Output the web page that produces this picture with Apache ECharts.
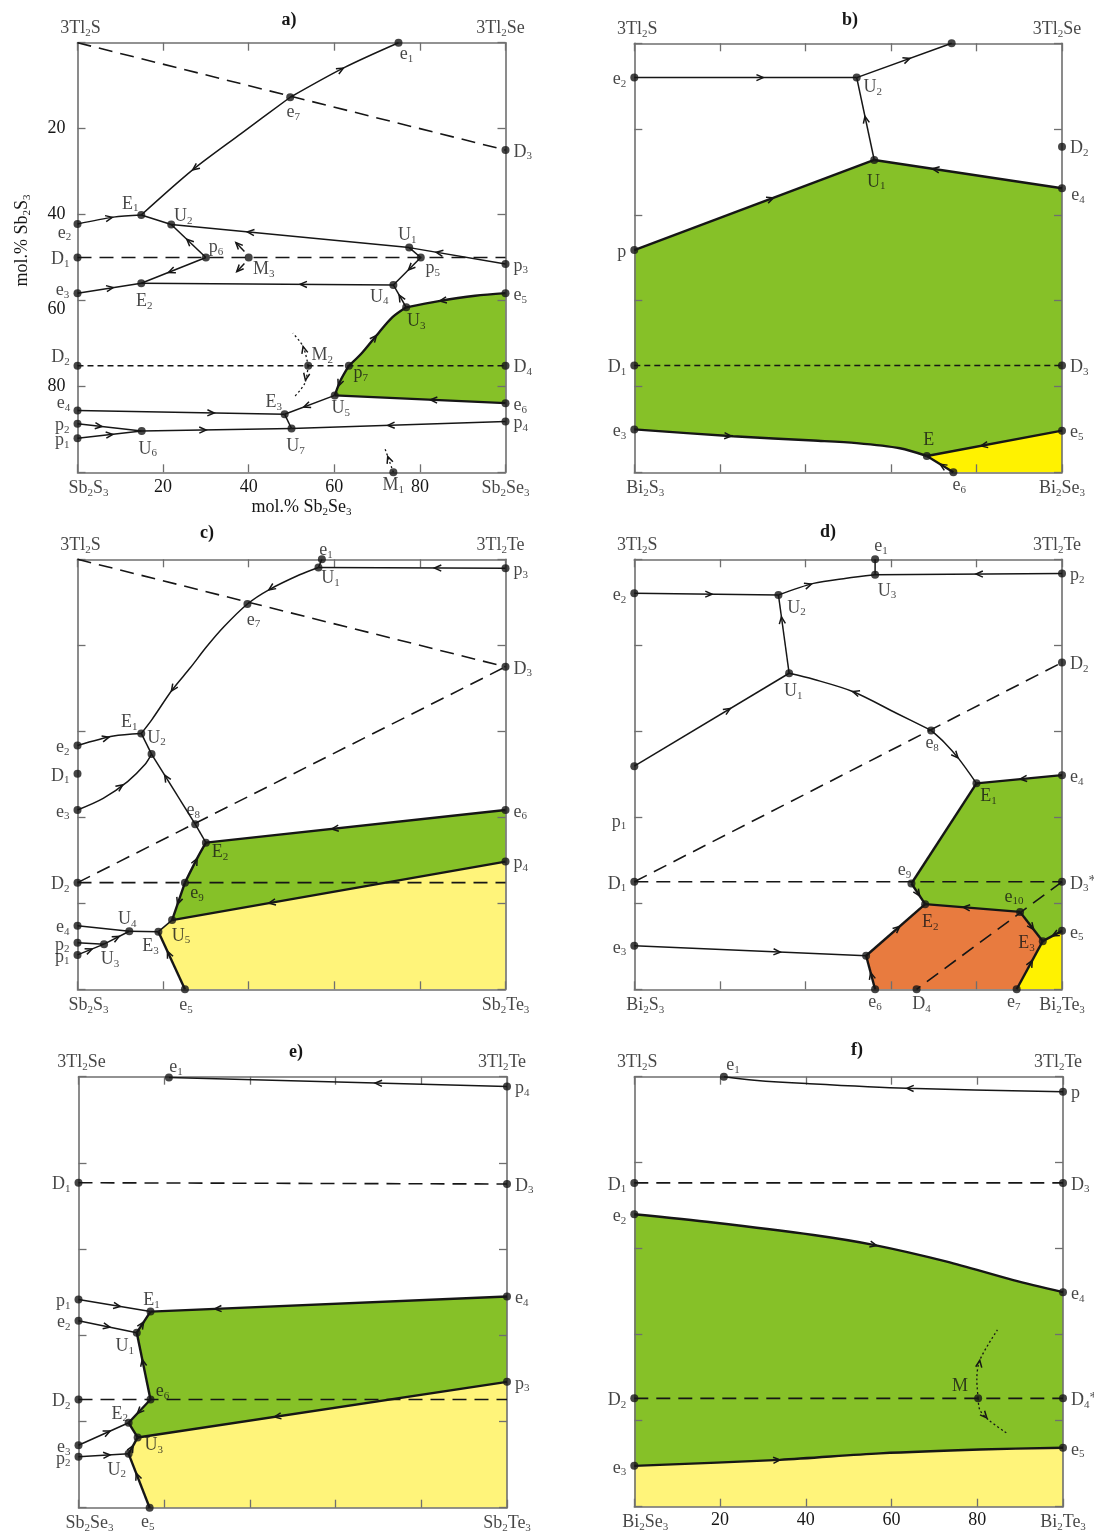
<!DOCTYPE html>
<html>
<head>
<meta charset="utf-8">
<title>Liquidus surface projections</title>
<script src="https://cdn.jsdelivr.net/npm/echarts@6/dist/echarts.min.js"></script>
<style>
  html, body { margin: 0; padding: 0; background: #fff; }
  #chart { width: 1094px; height: 1535px; }
</style>
</head>
<body>
<div id="chart"></div>
<script>
// Compositions are in mol.%: x runs from the left edge (0) to the right edge (100),
// y runs from the top edge (0) down to the bottom edge (100).
// Node rows are [name, x, y]; names starting with '#' are unlabelled nodes.

// ---------- a) 3Tl2S – 3Tl2Se – Sb2Se3 – Sb2S3
const aCorners = ['3Tl_2S', '3Tl_2Se', 'Sb_2S_3', 'Sb_2Se_3'];
const aNodes = [
  ['e_1', 75, 0], ['e_7', 49.7, 12.7], ['D_3', 100, 25], ['E_1', 14.9, 40.1], ['e_2', 0, 42.2],
  ['U_2', 21.9, 42.3], ['U_1', 77.5, 47.7], ['D_1', 0, 50], ['p_6', 30, 50], ['M_3', 40, 50],
  ['p_5', 80.2, 50], ['p_3', 100, 51.5], ['e_3', 0, 58.3], ['E_2', 14.9, 56.0], ['U_4', 73.8, 56.4],
  ['U_3', 76.8, 61.6], ['e_5', 100, 58.3], ['D_2', 0, 75.2], ['M_2', 53.9, 75.2], ['p_7', 63.4, 75.2],
  ['D_4', 100, 75.2], ['U_5', 60.1, 82.1], ['e_6', 100, 83.9], ['E_3', 48.4, 86.5], ['e_4', 0, 85.6],
  ['p_2', 0, 88.7], ['p_4', 100, 88.2], ['U_6', 15, 90.4], ['U_7', 50, 89.8], ['p_1', 0, 92.1],
  ['M_1', 73.8, 100]
];
// curves: p = node names or [x, y] waypoints in flow order, a = arrow positions along the curve (0..1)
const aThin = [
  {p: ['e_7', [62.3, 5.8], 'e_1'], a: [0.5]},
  {p: ['e_7', [38.3, 21.1], [26.9, 29.6], 'E_1'], a: [0.64]},
  {p: ['e_2', [8.4, 40.6], 'E_1'], a: [0.55]},
  {p: ['E_1', 'U_2']},
  {p: ['U_1', 'U_2'], a: [0.68]},
  {p: ['p_3', 'U_1'], a: [0.72]},
  {p: ['U_1', 'p_5']},
  {p: ['p_5', 'U_4'], a: [0.45]},
  {p: ['U_4', 'E_2'], a: [0.37]},
  {p: ['U_3', 'U_4'], a: [0.55]},
  {p: ['p_6', 'E_2'], a: [0.58]},
  {p: ['e_3', 'E_2'], a: [0.56]},
  {p: ['p_6', 'U_2'], a: [0.55]},
  {p: ['U_5', 'E_3'], a: [0.62]},
  {p: ['e_4', 'E_3'], a: [0.66]},
  {p: ['E_3', 'U_7']},
  {p: ['p_2', 'U_6'], a: [0.38]},
  {p: ['p_1', 'U_6'], a: [0.55]},
  {p: ['U_6', 'U_7'], a: [0.43]},
  {p: ['p_4', 'U_7'], a: [0.55]},
  {p: [[39, 48.6], [37, 46.5]], a: [1]},
  {p: [[39, 51.4], [37.2, 53.3]], a: [1]}
];
const aThick = [
  {p: ['e_5', [92.9, 58.9], [84.1, 60.2], 'U_3'], a: [0.66]},
  {p: ['p_7', [66.4, 72.3], [70.4, 67.5], [73.6, 63.9], 'U_3'], a: [0.5]},
  {p: ['p_7', [61.5, 78.5], 'U_5'], a: [0.7]},
  {p: ['e_6', 'U_5'], a: [0.44]}
];
const aDotted = [
  {p: ['M_2', [52.7, 70.7], [50.3, 67.6]], a: [0.54]},
  {p: ['M_2', [53.1, 79.3], [50.7, 82.4]], a: [0.42]},
  {p: ['M_1', [71.8, 94.4]], a: [0.66]}
];
const aDashed = [[[0, 0], 'D_3'], ['D_1', [100, 50]]];
const aDashedShort = [['D_2', 'D_4']];
const aGreen = ['e_5', [92.9, 58.9], [84.1, 60.2], 'U_3', [73.6, 63.9], [70.4, 67.5], [66.4, 72.3],
  'p_7', [61.5, 78.5], 'U_5', 'e_6'];

// ---------- b) 3Tl2S – 3Tl2Se – Bi2Se3 – Bi2S3
const bCorners = ['3Tl_2S', '3Tl_2Se', 'Bi_2S_3', 'Bi_2Se_3'];
const bNodes = [
  ['#top', 74.2, 0], ['e_2', 0, 8], ['U_2', 52, 8], ['U_1', 56.1, 27.2], ['D_2', 100, 24.1],
  ['e_4', 100, 33.8], ['p', 0, 48.2], ['D_1', 0, 75.1], ['D_3', 100, 75.1], ['e_3', 0, 90],
  ['e_5', 100, 90.3], ['E', 68.4, 96.2], ['e_6', 74.6, 100]
];
const bThin = [
  {p: ['e_2', 'U_2'], a: [0.58]},
  {p: ['U_2', '#top'], a: [0.56]},
  {p: ['U_1', 'U_2'], a: [0.53]}
];
const bThick = [
  {p: ['p', 'U_1'], a: [0.58]},
  {p: ['e_4', 'U_1'], a: [0.69]},
  {p: ['e_3', [23.1, 91.6], [41.9, 92.6], [52, 93.2], [62.1, 94.4], 'E'], a: [0.33]},
  {p: ['e_5', 'E'], a: [0.6]},
  {p: ['e_6', 'E'], a: [0.5]}
];
const bDashedShort = [['D_1', 'D_3']];
const bGreen = ['p', 'U_1', 'e_4', 'e_5', 'E', [62.1, 94.4], [52, 93.2], [41.9, 92.6], [23.1, 91.6], 'e_3'];
const bYellow = ['E', 'e_5', [100, 100], 'e_6'];

// ---------- c) 3Tl2S – 3Tl2Te – Sb2Te3 – Sb2S3
const cCorners = ['3Tl_2S', '3Tl_2Te', 'Sb_2S_3', 'Sb_2Te_3'];
const cNodes = [
  ['e_1', 57.1, 0], ['U_1', 56.3, 1.9], ['p_3', 100, 2.1], ['e_7', 39.7, 10.4], ['D_3', 100, 25],
  ['E_1', 14.9, 40.5], ['e_2', 0, 43.3], ['U_2', 17.3, 45.3], ['D_1', 0, 49.9], ['e_3', 0, 58.3],
  ['e_8', 27.5, 61.6], ['E_2', 30, 65.9], ['e_6', 100, 58.3], ['p_4', 100, 70.3], ['D_2', 0, 75.2],
  ['e_9', 25.1, 75.2], ['U_5', 22.1, 83.9], ['E_3', 18.9, 86.6], ['U_4', 12.1, 86.5], ['e_4', 0, 85.2],
  ['p_2', 0, 89.2], ['U_3', 6.2, 89.5], ['p_1', 0, 92], ['e_5', 25.1, 100]
];
const cThin = [
  {p: ['p_3', 'U_1'], a: [0.38]},
  {p: ['e_1', 'U_1']},
  {p: ['U_1', [51.9, 3.6], [44.7, 7.1], 'e_7', [34.2, 15.7], [30.2, 20.3], [26.3, 25.3], [22.1, 30.4],
    [17.3, 37.4], 'E_1'], a: [0.22, 0.79]},
  {p: ['e_2', [8.4, 41.1], 'E_1'], a: [0.5]},
  {p: ['E_1', 'U_2']},
  {p: ['e_3', [6, 55.6], [11.7, 51.7], [15.7, 47.8], 'U_2'], a: [0.55]},
  {p: ['e_8', 'U_2'], a: [0.7]},
  {p: ['E_2', 'e_8']},
  {p: ['e_4', 'U_4']},
  {p: ['U_4', 'E_3']},
  {p: ['p_2', 'U_3']},
  {p: ['p_1', 'U_3'], a: [0.55]},
  {p: ['U_3', 'U_4'], a: [0.6]},
  {p: ['U_5', 'E_3']}
];
const cThick = [
  {p: ['e_6', 'E_2'], a: [0.58]},
  {p: ['e_9', [28.2, 69.1], 'E_2'], a: [0.6]},
  {p: ['e_9', 'U_5'], a: [0.58]},
  {p: ['p_4', 'U_5'], a: [0.71]},
  {p: ['e_5', 'E_3'], a: [0.66]}
];
const cDashed = [[[0, 0], 'D_3'], ['D_2', 'D_3'], ['D_2', [100, 75.2]]];
const cGreen = ['E_2', 'e_6', 'p_4', 'U_5', 'e_9', [28.2, 69.1]];
const cYellow = ['U_5', 'p_4', [100, 100], 'e_5', 'E_3'];

// ---------- d) 3Tl2S – 3Tl2Te – Bi2Te3 – Bi2S3
const dCorners = ['3Tl_2S', '3Tl_2Te', 'Bi_2S_3', 'Bi_2Te_3'];
const dNodes = [
  ['e_1', 56.3, 0], ['U_3', 56.3, 3.6], ['p_2', 100, 3.3], ['e_2', 0, 7.9], ['U_2', 33.7, 8.3],
  ['U_1', 36.2, 26.5], ['D_2', 100, 24], ['e_8', 69.4, 39.8], ['#p1', 0, 48.1], ['e_4', 100, 50.2],
  ['E_1', 80, 52.1], ['e_9', 64.8, 75.4], ['D_1', 0, 75], ['D_3*', 100, 75], ['E_2', 68, 80.2],
  ['e_10', 90.2, 82], ['e_5', 100, 86.4], ['E_3', 95.5, 88.8], ['e_3', 0, 89.9], ['#e6', 54.2, 92.2],
  ['e_6', 56.3, 100], ['D_4', 66, 100], ['e_7', 89.4, 100]
];
const dTexts = [['p_1', 0, 60.6]];
const dThin = [
  {p: ['p_2', 'U_3'], a: [0.46]},
  {p: ['U_3', 'e_1']},
  {p: ['U_2', [41.9, 5.6], [49.6, 4.4], 'U_3'], a: [0.35]},
  {p: ['e_2', 'U_2'], a: [0.54]},
  {p: ['U_1', 'U_2'], a: [0.72]},
  {p: ['#p1', 'U_1'], a: [0.62]},
  {p: ['e_8', [61.3, 35.8], [51.2, 30.8], [41.9, 27.9], 'U_1'], a: [0.57]},
  {p: ['e_8', [72.6, 42.7], [75.8, 46.3], 'E_1'], a: [0.55]},
  {p: ['e_3', '#e6'], a: [0.63]}
];
const dThick = [
  {p: ['e_4', 'E_1'], a: [0.49]},
  {p: ['E_1', 'e_9']},
  {p: ['e_9', 'E_2'], a: [0.6]},
  {p: ['e_10', 'E_2'], a: [0.6]},
  {p: ['e_10', 'E_3'], a: [0.6]},
  {p: ['e_5', 'E_3'], a: [0.5]},
  {p: ['e_7', 'E_3'], a: [0.6]},
  {p: ['e_6', '#e6'], a: [0.5]},
  {p: ['#e6', 'E_2'], a: [0.57]}
];
const dDashed = [['D_1', 'D_2'], ['D_1', 'D_3*'], ['D_3*', 'D_4']];
const dGreen = ['E_1', 'e_4', 'e_5', 'E_3', 'e_10', 'E_2', 'e_9'];
const dOrange = ['#e6', 'E_2', 'e_10', 'E_3', 'e_7', 'e_6'];
const dYellow = ['E_3', 'e_5', [100, 100], 'e_7'];

// ---------- e) 3Tl2Se – 3Tl2Te – Sb2Te3 – Sb2Se3
const eCorners = ['3Tl_2Se', '3Tl_2Te', 'Sb_2Se_3', 'Sb_2Te_3'];
const eNodes = [
  ['e_1', 21.1, 0.2], ['p_4', 100, 2.3], ['D_1', 0, 24.6], ['D_3', 100, 24.9], ['p_1', 0, 51.7],
  ['e_4', 100, 51], ['E_1', 16.8, 54.5], ['e_2', 0, 56.6], ['U_1', 13.6, 59.4], ['D_2', 0, 74.9],
  ['e_6', 16.8, 74.9], ['p_3', 100, 70.8], ['E_2', 11.7, 80.3], ['U_3', 13.8, 83.7], ['e_3', 0, 85.5],
  ['p_2', 0, 88.2], ['U_2', 11.7, 87.5], ['e_5', 16.6, 100]
];
const eThin = [
  {p: ['p_4', 'e_1'], a: [0.39]},
  {p: ['p_1', 'E_1'], a: [0.58]},
  {p: ['e_2', 'U_1'], a: [0.54]},
  {p: ['e_3', 'E_2'], a: [0.63]},
  {p: ['p_2', 'U_2'], a: [0.63]}
];
const eThick = [
  {p: ['U_1', 'E_1'], a: [0.5]},
  {p: ['e_4', 'E_1'], a: [0.82]},
  {p: ['e_6', 'U_1'], a: [0.6]},
  {p: ['e_6', 'E_2'], a: [0.6]},
  {p: ['E_2', 'U_3']},
  {p: ['p_3', 'U_3'], a: [0.63]},
  {p: ['U_2', 'U_3'], a: [0.5]},
  {p: ['e_5', 'U_2'], a: [0.64]}
];
const eDashed = [['D_1', 'D_3'], ['D_2', [100, 74.9]]];
const eGreen = ['E_1', 'e_4', 'p_3', 'U_3', 'E_2', 'e_6', 'U_1'];
const eYellow = ['U_3', 'p_3', [100, 100], 'e_5', 'U_2'];

// ---------- f) 3Tl2S – 3Tl2Te – Bi2Te3 – Bi2Se3 (x: mol.% Bi2Te3)
const fCorners = ['3Tl_2S', '3Tl_2Te', 'Bi_2Se_3', 'Bi_2Te_3'];
const fNodes = [
  ['e_1', 20.9, 0], ['p', 100, 3.5], ['D_1', 0, 24.7], ['D_3', 100, 24.7], ['e_2', 0, 32],
  ['e_4', 100, 50.1], ['D_2', 0, 74.8], ['M', 80.2, 74.8], ['D_4*', 100, 74.8], ['e_5', 100, 86.3],
  ['e_3', 0, 90.5]
];
const fUpperValley = [[18.4, 33.9], [41.8, 36.8], [55.8, 39.1], [72.9, 43], [88.4, 47.3]];
const fLowerValley = [[34, 89.1], [57.3, 87.6], [80.6, 86.7]];
const fThin = [
  {p: ['p', [63.5, 2.7], [40.2, 1.6], [28, 0.8], 'e_1'], a: [0.46]}
];
const fThick = [
  {p: ['e_2', ...fUpperValley, 'e_4'], a: [0.56]},
  {p: ['e_3', ...fLowerValley, 'e_5'], a: [0.34]}
];
const fDotted = [
  {p: ['M', [79.9, 70.5], [80.6, 65.9], [84.7, 58.9]], a: [0.52]},
  {p: ['M', [80.6, 77.5], [82.6, 79.8], [86.9, 82.9]], a: [0.47]}
];
const fDashed = [['D_1', 'D_3'], ['D_2', 'D_4*']];
const fGreen = ['e_2', ...fUpperValley, 'e_4', 'e_5', ...fLowerValley.slice().reverse(), 'e_3'];
const fYellow = ['e_3', ...fLowerValley, 'e_5', [100, 100], [0, 100]];

// ---------- label placement (pixel offsets from the node; 'l' / 'r' = beside it)
const aTags = {
  e_1: [8, 12], e_7: [3, 15], D_3: 'r', E_1: [-11, -11], e_2: [-13, 9], U_2: [12, -8], U_1: [-2, -12],
  D_1: 'l', p_6: [10, -10], M_3: [15, 12], p_5: [12, 11], p_3: 'r', e_3: [-15, -3], E_2: [3, 18],
  U_4: [-14, 12], U_3: [10, 14], e_5: 'r', D_2: [-17, -8], M_2: [14, -10], p_7: [12, 8], D_4: 'r',
  U_5: [6, 13], e_6: 'r', E_3: [-11, -12], e_4: [-14, -7], p_2: 'l', p_1: 'l', U_6: [6, 18],
  U_7: [4, 18], p_4: 'r', M_1: [0, 13]
};
const bTags = {
  e_2: 'l', U_2: [16, 10], U_1: [2, 22], D_2: 'r', e_4: [16, 7], p: 'l', D_1: 'l', D_3: 'r',
  e_3: 'l', e_5: 'r', E: [2, -16], e_6: [6, 13]
};
const cTags = {
  e_1: [4, -9], U_1: [12, 11], p_3: 'r', e_7: [6, 16], D_3: 'r', E_1: [-12, -11], U_2: [5, -16],
  e_2: 'l', D_1: 'l', e_3: 'l', e_8: [-2, -14], E_2: [14, 10], e_6: 'r', p_4: 'r', D_2: 'l',
  e_9: [12, 11], U_5: [9, 16], E_3: [-8, 15], U_4: [-2, -12], e_4: 'l', p_2: 'l', U_3: [6, 15],
  p_1: 'l', e_5: [1, 16]
};
const dTags = {
  e_1: [6, -13], U_3: [12, 16], p_2: 'r', e_2: 'l', U_2: [18, 13], U_1: [4, 18], D_2: 'r',
  e_8: [1, 13], p_1: 'l', e_4: 'r', E_1: [12, 13], e_9: [-7, -13], D_1: 'l', 'D_3*': 'r',
  e_10: [-6, -15], E_2: [5, 18], E_3: 'l', e_5: 'r', e_3: 'l', e_6: [0, 13], D_4: [5, 15], e_7: [-3, 13]
};
const eTags = {
  e_1: [7, -10], p_4: 'r', D_1: 'l', D_3: 'r', p_1: 'l', e_2: 'l', E_1: [1, -11], U_1: [-12, 14],
  e_4: 'r', e_6: [12, -8], D_2: 'l', p_3: 'r', E_2: [-9, -9], U_3: [16, 8], e_3: 'l', p_2: 'l',
  U_2: [-12, 16], e_5: [-2, 15]
};
const fTags = {
  e_1: [9, -11], p: 'r', D_1: 'l', D_3: 'r', e_2: 'l', e_4: 'r', D_2: 'l', M: [-18, -12],
  'D_4*': 'r', e_5: 'r', e_3: 'l'
};

const PANELS = [
  {title: 'a)', corners: aCorners, nodes: aNodes, tags: aTags, thin: aThin, thick: aThick, dotted: aDotted,
   dashed: aDashed, dashedShort: aDashedShort, fills: [['green', aGreen]]},
  {title: 'b)', corners: bCorners, nodes: bNodes, tags: bTags, thin: bThin, thick: bThick,
   dashedShort: bDashedShort, fills: [['green', bGreen], ['yellow', bYellow]]},
  {title: 'c)', corners: cCorners, nodes: cNodes, tags: cTags, thin: cThin, thick: cThick,
   dashed: cDashed, fills: [['green', cGreen], ['paleYellow', cYellow]]},
  {title: 'd)', corners: dCorners, nodes: dNodes, texts: dTexts, tags: dTags, thin: dThin, thick: dThick,
   dashed: dDashed, fills: [['green', dGreen], ['orange', dOrange], ['yellow', dYellow]]},
  {title: 'e)', corners: eCorners, nodes: eNodes, tags: eTags, thin: eThin, thick: eThick,
   dashed: eDashed, fills: [['green', eGreen], ['paleYellow', eYellow]]},
  {title: 'f)', corners: fCorners, nodes: fNodes, tags: fTags, thin: fThin, thick: fThick, dotted: fDotted,
   dashed: fDashed, fills: [['green', fGreen], ['paleYellow', fYellow]]}
];

// ---------- layout & styles
const LAYOUT = [
  {grid: {left: 77.5, top: 42.7, width: 428, height: 429.6}, title: [289, 20], xLabelMargin: 6, yLabelMargin: 12},
  {grid: {left: 634.3, top: 43.3, width: 427.7, height: 429}, title: [850, 20]},
  {grid: {left: 77.5, top: 559.3, width: 428, height: 430}, title: [207, 533]},
  {grid: {left: 634.3, top: 559.3, width: 427.7, height: 430}, title: [828, 532]},
  {grid: {left: 78.5, top: 1076.7, width: 428.5, height: 431}, title: [296, 1052]},
  {grid: {left: 634.3, top: 1076.7, width: 428.7, height: 430}, title: [857, 1050], xLabelMargin: 5}
];
const CORNER_AT = [[0, 0], [100, 0], [0, 100], [100, 100]];
const CORNER_OFFSET = [[3, -14], [-5, -14], [11, 16], [0, 16]];

const INK = '#161616';
const FRAME = '#6f6f6f';
const FONT = '"Liberation Serif", "Times New Roman", serif';
const FILL = {green: '#86C128', yellow: '#FFF200', paleYellow: '#FFF47A', orange: '#E87B3F'};
const RICH = {
  m: {fontFamily: FONT, fontSize: 18, color: INK, lineHeight: 20, verticalAlign: 'middle'},
  s: {fontFamily: FONT, fontSize: 11, color: INK, lineHeight: 8, verticalAlign: 'bottom'},
  u: {fontFamily: FONT, fontSize: 15, color: INK, lineHeight: 10, verticalAlign: 'top'},
  low: {fontFamily: FONT, fontSize: 18, color: INK, padding: [18, 0, 0, 0]}
};

function richText(s) {
  return s.split(/(_\d+|\*)/).filter(t => t).map(t =>
    t[0] === '_' ? '{s|' + t.slice(1) + '}' : (t === '*' ? '{u|*}' : '{m|' + t + '}')).join('');
}

function tagLabel(name, tag) {
  if (!tag) return {show: false};
  let offset = tag, align = 'center';
  if (tag === 'l') { offset = [-8, 2]; align = 'right'; }
  if (tag === 'r') { offset = [8, 2]; align = 'left'; }
  const txt = richText(name);
  return {show: true, position: 'inside', offset, align, verticalAlign: 'middle',
          formatter: () => txt, rich: RICH};
}

function makeAxis(dim, i, position, margin) {
  const ax = {
    type: 'value', gridIndex: i, position, min: 0, max: 100, interval: 20, z: 2,
    inverse: dim === 'y', silent: true,
    axisLine: {show: true, onZero: false, lineStyle: {color: FRAME, width: 1.6}},
    axisTick: {show: true, inside: true, length: 8, lineStyle: {color: FRAME, width: 1.3}},
    splitLine: {show: false},
    axisLabel: {show: false}
  };
  if (margin != null) {
    ax.axisLabel = {show: true, margin, color: INK, fontFamily: FONT, fontSize: 18, rich: RICH,
      // the 60 on the composition scale sits a little below its tick, clear of the e3 label
      formatter: v => (v > 0 && v < 100 ? (dim === 'y' && v === 60 ? '{low|60}' : String(v)) : '')};
  }
  return ax;
}

function arrowRenderer(list) {
  return function (params, api) {
    const A = list[api.value(2)];
    const px = A.pts.map(p => api.coord(p));
    const cum = [0];
    for (let k = 1; k < px.length; k++) {
      cum.push(cum[k - 1] + Math.hypot(px[k][0] - px[k - 1][0], px[k][1] - px[k - 1][1]));
    }
    const target = A.t * cum[cum.length - 1];
    let k = 1;
    while (k < px.length - 1 && cum[k] < target) k++;
    const seg = (cum[k] - cum[k - 1]) || 1;
    const f = Math.min(1, Math.max(0, (target - cum[k - 1]) / seg));
    const dx = px[k][0] - px[k - 1][0], dy = px[k][1] - px[k - 1][1];
    const x = px[k - 1][0] + f * dx, y = px[k - 1][1] + f * dy;
    const ang = Math.atan2(dy, dx), s = 7.5, w = 0.42;
    return {
      type: 'polyline',
      shape: {points: [[x - s * Math.cos(ang - w), y - s * Math.sin(ang - w)], [x, y],
                       [x - s * Math.cos(ang + w), y - s * Math.sin(ang + w)]]},
      style: {stroke: INK, lineWidth: 1.5, fill: null}
    };
  };
}

const option = {
  animation: false,
  backgroundColor: '#ffffff',
  grid: [], xAxis: [], yAxis: [], series: [], graphic: []
};

PANELS.forEach((P, i) => {
  const L = LAYOUT[i];
  option.grid.push(Object.assign({containLabel: false}, L.grid));
  option.xAxis.push(makeAxis('x', i, 'bottom', L.xLabelMargin), makeAxis('x', i, 'top'));
  option.yAxis.push(makeAxis('y', i, 'left', L.yLabelMargin), makeAxis('y', i, 'right'));
  option.graphic.push({type: 'text', x: L.title[0], y: L.title[1], silent: true,
    style: {text: P.title, fontFamily: FONT, fontSize: 18, fontWeight: 'bold', fill: INK,
            align: 'center', verticalAlign: 'middle'}});

  const axes = {xAxisIndex: 2 * i, yAxisIndex: 2 * i};
  const pos = p => {
    if (Array.isArray(p)) return p;
    const n = P.nodes.find(d => d[0] === p);
    return [n[1], n[2]];
  };

  // phase fields
  P.fills.forEach(([kind, poly]) => {
    const pts = poly.map(pos);
    option.series.push({type: 'custom', ...axes, z: 1, silent: true, clip: false,
      data: [[pts[0][0], pts[0][1], 0]],
      renderItem: (params, api) => ({type: 'polygon',
        shape: {points: pts.map(q => api.coord(q))}, style: {fill: FILL[kind]}})});
  });

  // curved valleys (three or more points) are drawn smoothed
  const addLines = (list, width, type) => (list || []).forEach(path => {
    const pts = (path.p || path).map(pos);
    option.series.push({type: 'line', ...axes, z: 3, silent: true, clip: false, symbol: 'none',
      showSymbol: false, smooth: pts.length > 2 ? 0.3 : false, data: pts,
      lineStyle: {color: INK, width, type}});
  });
  addLines(P.dashed, 1.6, [14, 8]);
  addLines(P.dashedShort, 1.4, [6, 4]);
  addLines(P.dotted, 1.3, [2, 2.5]);
  addLines(P.thin, 1.5, 'solid');
  addLines(P.thick, 2.4, 'solid');

  // flow arrows
  const arrows = [];
  [].concat(P.thin || [], P.thick || [], P.dotted || []).forEach(path =>
    (path.a || []).forEach(t => arrows.push({pts: path.p.map(pos), t})));
  option.series.push({type: 'custom', ...axes, z: 3, silent: true, clip: false,
    data: arrows.map((A, k) => [A.pts[0][0], A.pts[0][1], k]),
    renderItem: arrowRenderer(arrows)});

  // invariant points
  option.series.push({type: 'scatter', ...axes, z: 4, silent: true, clip: false,
    symbol: 'circle', symbolSize: 8, itemStyle: {color: INK},
    data: P.nodes.map(n => ({value: [n[1], n[2]], label: tagLabel(n[0], P.tags[n[0]])}))});

  // corner compounds and free labels
  const texts = P.corners.map((c, k) => ({value: CORNER_AT[k], label: tagLabel(c, CORNER_OFFSET[k])}))
    .concat((P.texts || []).map(t => ({value: [t[1], t[2]], label: tagLabel(t[0], P.tags[t[0]])})));
  option.series.push({type: 'scatter', ...axes, z: 4, silent: true, clip: false,
    symbol: 'circle', symbolSize: 1, itemStyle: {color: 'rgba(0,0,0,0)'}, data: texts});
});

// axis titles of panel a
Object.assign(option.xAxis[0], {
  name: '{m|mol.% Sb}{s|2}{m|Se}{s|3}', nameLocation: 'middle', nameGap: 25,
  nameTextStyle: {rich: RICH, padding: [0, 0, 0, 20]}
});
Object.assign(option.yAxis[0], {
  name: '{m|mol.% Sb}{s|2}{m|S}{s|3}', nameLocation: 'middle', nameGap: 45,
  nameTextStyle: {rich: RICH, padding: [0, 0, 0, 34]}
});

const chart = echarts.init(document.getElementById('chart'), null, {renderer: 'canvas'});
chart.setOption(option);
</script>
</body>
</html>
